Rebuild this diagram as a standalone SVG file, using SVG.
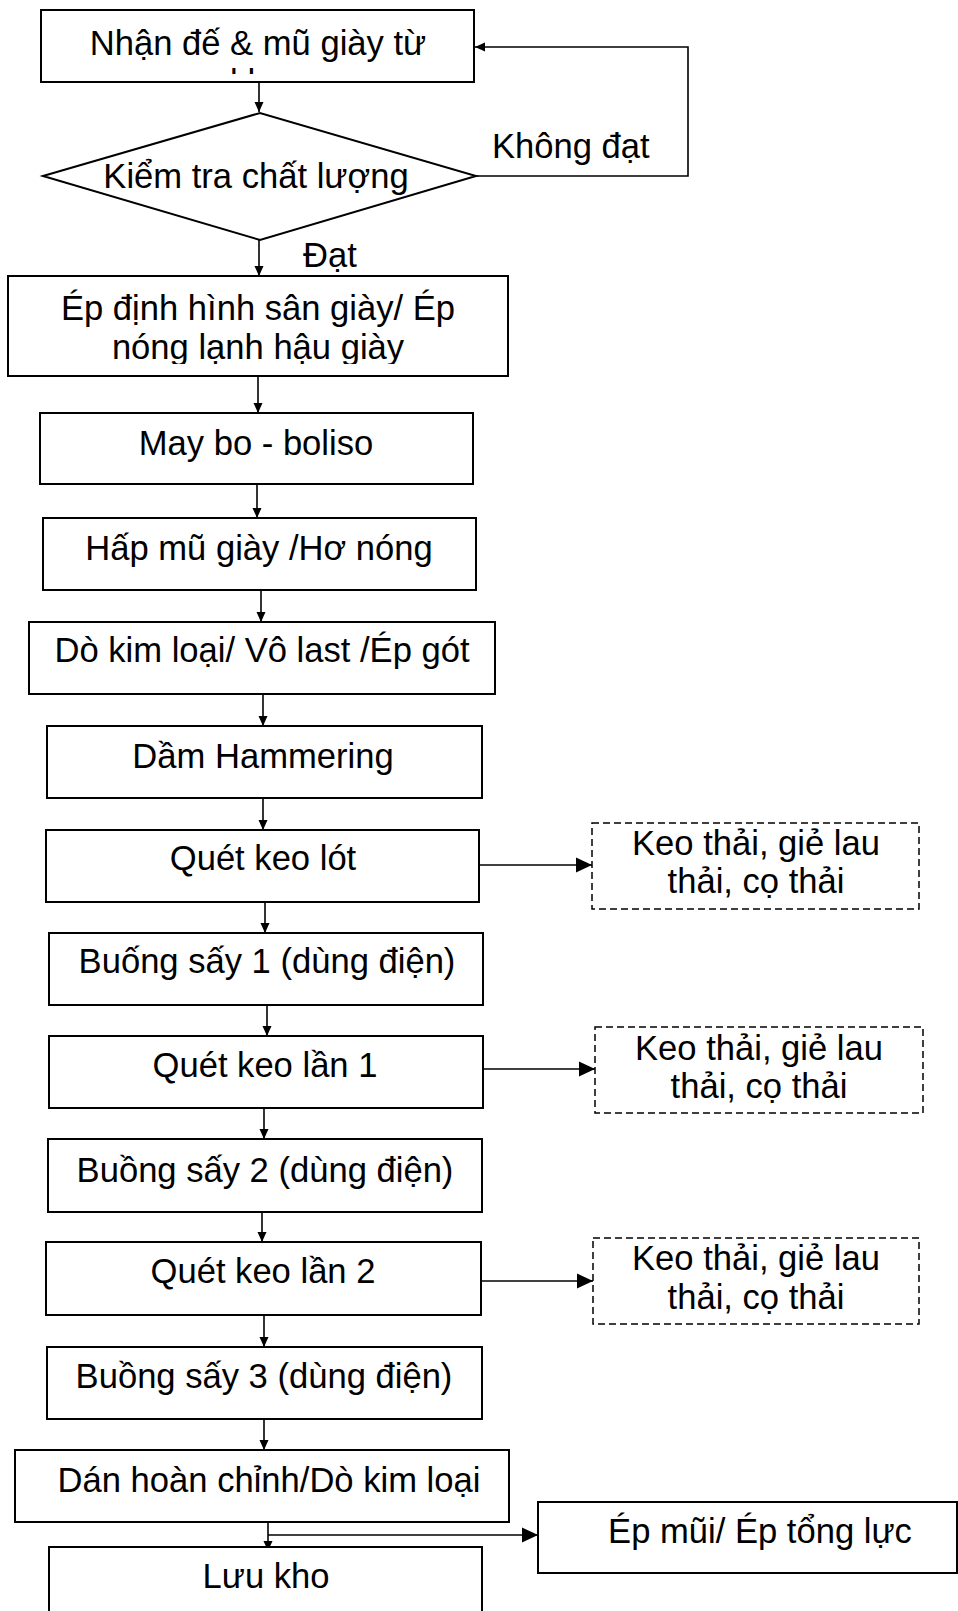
<svg xmlns="http://www.w3.org/2000/svg" width="958" height="1611" viewBox="0 0 958 1611">
<style>
.box{fill:#fff;stroke:#000;stroke-width:2}
.dash{fill:#fff;stroke:#000;stroke-width:1.5;stroke-dasharray:7 4}
.t{font-family:"Liberation Sans",Arial,sans-serif;font-size:34.6px;fill:#000;text-anchor:middle}
.l{font-family:"Liberation Sans",Arial,sans-serif;font-size:34.6px;fill:#000}
.c{fill:none;stroke:#000;stroke-width:1.6}
</style>
<defs>
<marker id="a" markerUnits="userSpaceOnUse" markerWidth="10" markerHeight="10" refX="10" refY="5" orient="auto"><path d="M0,0.5 L10,5 L0,9.5 z" fill="#000"/></marker>
<marker id="A" markerUnits="userSpaceOnUse" markerWidth="16" markerHeight="16" refX="16" refY="8" orient="auto"><path d="M0,0.5 L16,8 L0,15.5 z" fill="#000"/></marker>
<clipPath id="clip1"><rect x="41" y="10" width="433" height="64"/></clipPath>
<clipPath id="clip2"><rect x="8" y="276" width="500" height="88"/></clipPath>
</defs>

<g id="connectors">
<path class="c" d="M259,82 V112" marker-end="url(#a)"/>
<path class="c" d="M476,176 H688 V47 H475" marker-end="url(#a)"/>
<path class="c" d="M259,240 V276" marker-end="url(#a)"/>
<path class="c" d="M258,376 V413" marker-end="url(#a)"/>
<path class="c" d="M257,484 V518" marker-end="url(#a)"/>
<path class="c" d="M261,590 V622" marker-end="url(#a)"/>
<path class="c" d="M263,694 V726" marker-end="url(#a)"/>
<path class="c" d="M263,798 V830" marker-end="url(#a)"/>
<path class="c" d="M265,902 V933" marker-end="url(#a)"/>
<path class="c" d="M267,1005 V1036" marker-end="url(#a)"/>
<path class="c" d="M264,1108 V1139" marker-end="url(#a)"/>
<path class="c" d="M262,1212 V1242" marker-end="url(#a)"/>
<path class="c" d="M264,1315 V1347" marker-end="url(#a)"/>
<path class="c" d="M264,1419 V1450" marker-end="url(#a)"/>
<path class="c" d="M268,1522 V1551" marker-end="url(#a)"/>
<path class="c" d="M268,1535 H538" marker-end="url(#A)"/>
<path class="c" d="M479,865 H592" marker-end="url(#A)"/>
<path class="c" d="M483,1069 H595" marker-end="url(#A)"/>
<path class="c" d="M481,1281 H593" marker-end="url(#A)"/>
<text class="l" x="492" y="158">Không đạt</text>
<text class="l" x="303" y="267">Đạt</text>
</g>

<g id="n1">
<rect class="box" x="41" y="10" width="433" height="72"/>
<g clip-path="url(#clip1)">
<text class="t" x="258" y="55">Nhận đế &amp; mũ giày từ</text>
<text class="t" x="258" y="94">kho</text>
</g>
</g>
<g id="n2">
<path class="box" d="M43,176 L260,113 L476,176 L260,240 Z"/>
<text class="t" x="256" y="188">Kiểm tra chất lượng</text>
</g>
<g id="n3">
<rect class="box" x="8" y="276" width="500" height="100"/>
<g clip-path="url(#clip2)">
<text class="t" x="258" y="320">Ép định hình sân giày/ Ép</text>
<text class="t" x="258" y="359">nóng lạnh hậu giày</text>
</g>
</g>
<g id="n4">
<rect class="box" x="40" y="413" width="433" height="71"/>
<text class="t" x="256" y="455">May bo - boliso</text>
</g>
<g id="n5">
<rect class="box" x="43" y="518" width="433" height="72"/>
<text class="t" x="259" y="560">Hấp mũ giày /Hơ nóng</text>
</g>
<g id="n6">
<rect class="box" x="29" y="622" width="466" height="72"/>
<text class="t" x="262" y="662">Dò kim loại/ Vô last /Ép gót</text>
</g>
<g id="n7">
<rect class="box" x="47" y="726" width="435" height="72"/>
<text class="t" x="263" y="768">Dầm Hammering</text>
</g>
<g id="n8">
<rect class="box" x="46" y="830" width="433" height="72"/>
<text class="t" x="263" y="870">Quét keo lót</text>
</g>
<g id="n9">
<rect class="dash" x="592" y="823" width="327" height="86"/>
<text class="t" x="756" y="855">Keo thải, giẻ lau</text>
<text class="t" x="756" y="893">thải, cọ thải</text>
</g>
<g id="n10">
<rect class="box" x="49" y="933" width="434" height="72"/>
<text class="t" x="267" y="973">Buống sấy 1 (dùng điện)</text>
</g>
<g id="n11">
<rect class="box" x="49" y="1036" width="434" height="72"/>
<text class="t" x="265" y="1077">Quét keo lần 1</text>
</g>
<g id="n12">
<rect class="dash" x="595" y="1027" width="328" height="86"/>
<text class="t" x="759" y="1060">Keo thải, giẻ lau</text>
<text class="t" x="759" y="1098">thải, cọ thải</text>
</g>
<g id="n13">
<rect class="box" x="48" y="1139" width="434" height="73"/>
<text class="t" x="265" y="1182">Buồng sấy 2 (dùng điện)</text>
</g>
<g id="n14">
<rect class="box" x="46" y="1242" width="435" height="73"/>
<text class="t" x="263" y="1283">Quét keo lần 2</text>
</g>
<g id="n15">
<rect class="dash" x="593" y="1238" width="326" height="86"/>
<text class="t" x="756" y="1270">Keo thải, giẻ lau</text>
<text class="t" x="756" y="1309">thải, cọ thải</text>
</g>
<g id="n16">
<rect class="box" x="47" y="1347" width="435" height="72"/>
<text class="t" x="264" y="1388">Buồng sấy 3 (dùng điện)</text>
</g>
<g id="n17">
<rect class="box" x="15" y="1450" width="494" height="72"/>
<text class="t" x="269" y="1492">Dán hoàn chỉnh/Dò kim loại</text>
</g>
<g id="n18">
<rect class="box" x="538" y="1502" width="419" height="71"/>
<text class="t" x="760" y="1543">Ép mũi/ Ép tổng lực</text>
</g>
<g id="n19">
<rect class="box" x="49" y="1547" width="433" height="74"/>
<text class="t" x="266" y="1588">Lưu kho</text>
</g>
</svg>
